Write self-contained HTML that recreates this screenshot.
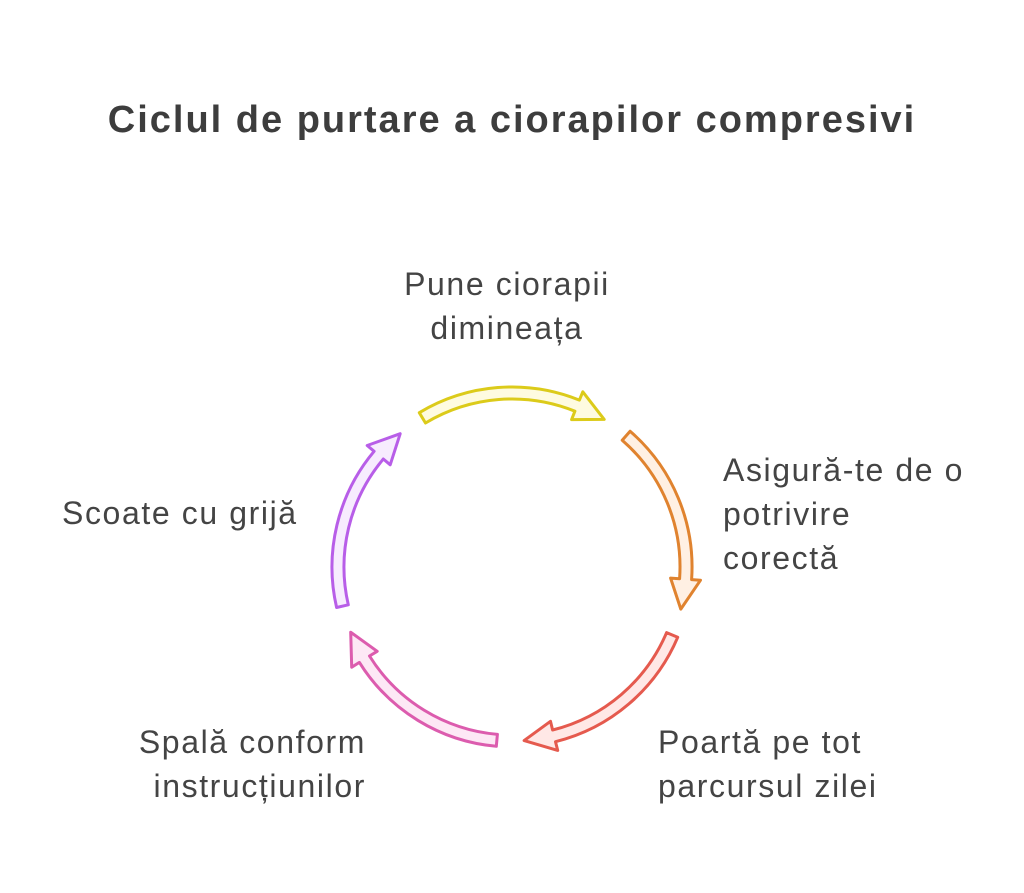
<!DOCTYPE html>
<html><head><meta charset="utf-8"><style>
body{margin:0;width:1024px;height:893px;background:#fff;font-family:"Liberation Sans",sans-serif;overflow:hidden}
svg{position:absolute;left:0;top:0}
.t{position:absolute;color:#444;font-size:32px;letter-spacing:1.6px;line-height:44px;white-space:nowrap}
</style></head><body>
<div class="t" style="left:0;width:1024px;top:95px;text-align:center;font-weight:bold;font-size:38px;letter-spacing:2px;color:#3d3d3d;line-height:50px">Ciclul de purtare a ciorapilor compresivi</div>
<div class="t" style="left:357px;width:300px;top:262px;text-align:center">Pune ciorapii<br>dimineața</div>
<div class="t" style="left:723px;top:448px">Asigură-te de o<br>potrivire<br>corectă</div>
<div class="t" style="left:658px;top:720px">Poartă pe tot<br>parcursul zilei</div>
<div class="t" style="left:16px;width:350px;top:720px;text-align:right">Spală conform<br>instrucțiunilor</div>
<div class="t" style="left:62px;top:491px">Scoate cu grijă</div>
<svg width="1024" height="893" id="s"></svg>
<script>
var cx=512,cy=567,ro=180,ri=168,rm=174,ho=189,hi=159;
var cols=[["#dccb1a","#fefbe0"],["#e0832f","#fff0e3"],["#e55a4e","#ffe8e6"],["#dc5cae","#fde8f5"],["#b85ee8","#f7ecfe"]];
function p(r,a){a=a*Math.PI/180;return (cx+r*Math.sin(a)).toFixed(1)+","+(cy-r*Math.cos(a)).toFixed(1);}
var h="";
for(var k=0;k<5;k++){
 var c=k*72,a0=c-31,ab=c+22,at=c+32;
 var d="M"+p(ro,a0)+" A"+ro+","+ro+" 0 0 1 "+p(ro,ab)+" L"+p(ho,ab)+" L"+p(rm,at)+" L"+p(hi,ab)+" L"+p(ri,ab)+" A"+ri+","+ri+" 0 0 0 "+p(ri,a0)+" Z";
 h+='<path d="'+d+'" fill="'+cols[k][1]+'" stroke="'+cols[k][0]+'" stroke-width="3" stroke-linejoin="round"/>';
}
document.getElementById("s").innerHTML=h;
</script>
</body></html>
